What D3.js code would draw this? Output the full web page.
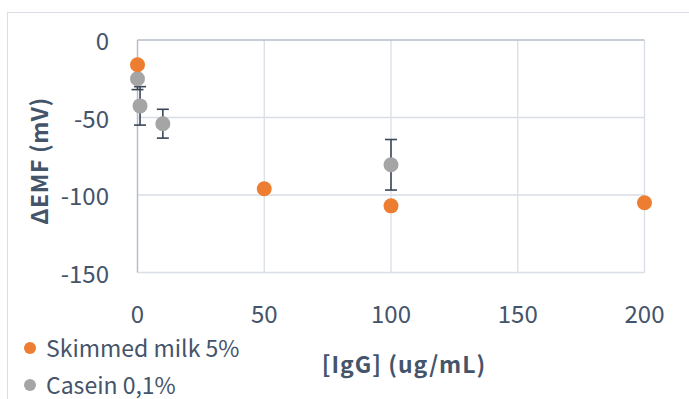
<!DOCTYPE html>
<html>
<head>
<meta charset="utf-8">
<script src="https://cdn.jsdelivr.net/npm/d3@7"></script>
<style>
  body { margin: 0; background: #fff; }
  text { font-family: "Noto Sans CJK KR", "Noto Sans", sans-serif; fill: #44546a; }
</style>
</head>
<body>
<div id="chart"></div>
<script>
// data
var seriesNames = ["Skimmed milk 5%", "Casein 0,1%"];
var milkX = [0, 50, 100, 200];
var milkY = [-16, -96, -107, -105];
var caseinX = [0, 1, 10, 100];
var caseinY = [-25, -42.5, -54, -80.5];
var caseinErr = [7, 12.4, 9.3, 16.3];
var xTicks = [0, 50, 100, 150, 200];
var yTicks = [0, -50, -100, -150];

var width = 689, height = 399;
var colors = ["#ed7d31", "#a5a5a5"];

var svg = d3.select("#chart")
    .append("svg")
    .attr("width", width)
    .attr("height", height);

// chart border
svg.append("rect")
    .attr("x", 7.5).attr("y", 12.5)
    .attr("width", 700).attr("height", 400)
    .attr("fill", "none")
    .attr("stroke", "#d9dee6")
    .attr("stroke-width", 1);

var x = d3.scaleLinear().domain([0, 200]).range([137.5, 644.5]);
var y = d3.scaleLinear().domain([-150, 0]).range([272.5, 40]);

// gridlines
svg.append("g").selectAll("line")
    .data(yTicks.filter(function (d) { return d !== 0; }))
    .enter().append("line")
    .attr("x1", x(0)).attr("x2", x(200))
    .attr("y1", function (d) { return y(d); })
    .attr("y2", function (d) { return y(d); })
    .attr("stroke", "#d9dee6").attr("stroke-width", 1.3);

svg.append("g").selectAll("line")
    .data(xTicks.filter(function (d) { return d !== 0; }))
    .enter().append("line")
    .attr("y1", y(0)).attr("y2", y(-150))
    .attr("x1", function (d) { return x(d); })
    .attr("x2", function (d) { return x(d); })
    .attr("stroke", "#d9dee6").attr("stroke-width", 1.3);

// axis lines (cross at 0)
svg.append("line")
    .attr("x1", x(0)).attr("x2", x(200))
    .attr("y1", y(0)).attr("y2", y(0))
    .attr("stroke", "#b4bdcc").attr("stroke-width", 1.5);
svg.append("line")
    .attr("x1", x(0)).attr("x2", x(0))
    .attr("y1", y(0)).attr("y2", y(-150))
    .attr("stroke", "#b4bdcc").attr("stroke-width", 1.5);

// tick labels
svg.append("g").selectAll("text")
    .data(yTicks)
    .enter().append("text")
    .attr("x", 109)
    .attr("y", function (d) { return y(d) + 10; })
    .attr("text-anchor", "end")
    .style("font-size", "24px")
    .text(function (d) { return d; });

svg.append("g").selectAll("text")
    .data(xTicks)
    .enter().append("text")
    .attr("x", function (d) { return x(d); })
    .attr("y", 323)
    .attr("text-anchor", "middle")
    .style("font-size", "24px")
    .text(function (d) { return d; });

// axis titles
svg.append("text")
    .attr("transform", "translate(48,161) rotate(-90)")
    .attr("text-anchor", "middle")
    .style("font-size", "23px")
    .style("font-weight", "bold")
    .style("letter-spacing", "0.6px")
    .text("ΔEMF (mV)");

svg.append("text")
    .attr("x", 404).attr("y", 373)
    .attr("text-anchor", "middle")
    .style("font-size", "23px")
    .style("font-weight", "bold")
    .style("letter-spacing", "1px")
    .text("[IgG] (ug/mL)");

// error bars for casein
var caseinData = caseinX.map(function (d, i) {
    return { x: d, y: caseinY[i], e: caseinErr[i] };
});
var eb = svg.append("g").attr("stroke", "#3b4658").attr("stroke-width", 1.6);
caseinData.forEach(function (d) {
    eb.append("line")
        .attr("x1", x(d.x)).attr("x2", x(d.x))
        .attr("y1", y(d.y + d.e)).attr("y2", y(d.y - d.e));
    [d.y + d.e, d.y - d.e].forEach(function (v) {
        eb.append("line")
            .attr("x1", x(d.x) - 6).attr("x2", x(d.x) + 6)
            .attr("y1", y(v)).attr("y2", y(v));
    });
});

// points
svg.append("g").selectAll("circle")
    .data(caseinData)
    .enter().append("circle")
    .attr("cx", function (d) { return x(d.x); })
    .attr("cy", function (d) { return y(d.y); })
    .attr("r", 7.5)
    .attr("fill", colors[1]);

svg.append("g").selectAll("circle")
    .data(milkX.map(function (d, i) { return { x: d, y: milkY[i] }; }))
    .enter().append("circle")
    .attr("cx", function (d) { return x(d.x); })
    .attr("cy", function (d) { return y(d.y); })
    .attr("r", 7.5)
    .attr("fill", colors[0]);

// legend
var legend = svg.append("g").selectAll("g")
    .data(seriesNames)
    .enter().append("g")
    .attr("transform", function (d, i) { return "translate(30," + (348 + i * 37) + ")"; });
legend.append("circle")
    .attr("r", 6)
    .attr("fill", function (d, i) { return colors[i]; });
legend.append("text")
    .attr("x", 16).attr("y", 8.5)
    .style("font-size", "23px")
    .text(function (d) { return d; });
</script>
</body>
</html>
